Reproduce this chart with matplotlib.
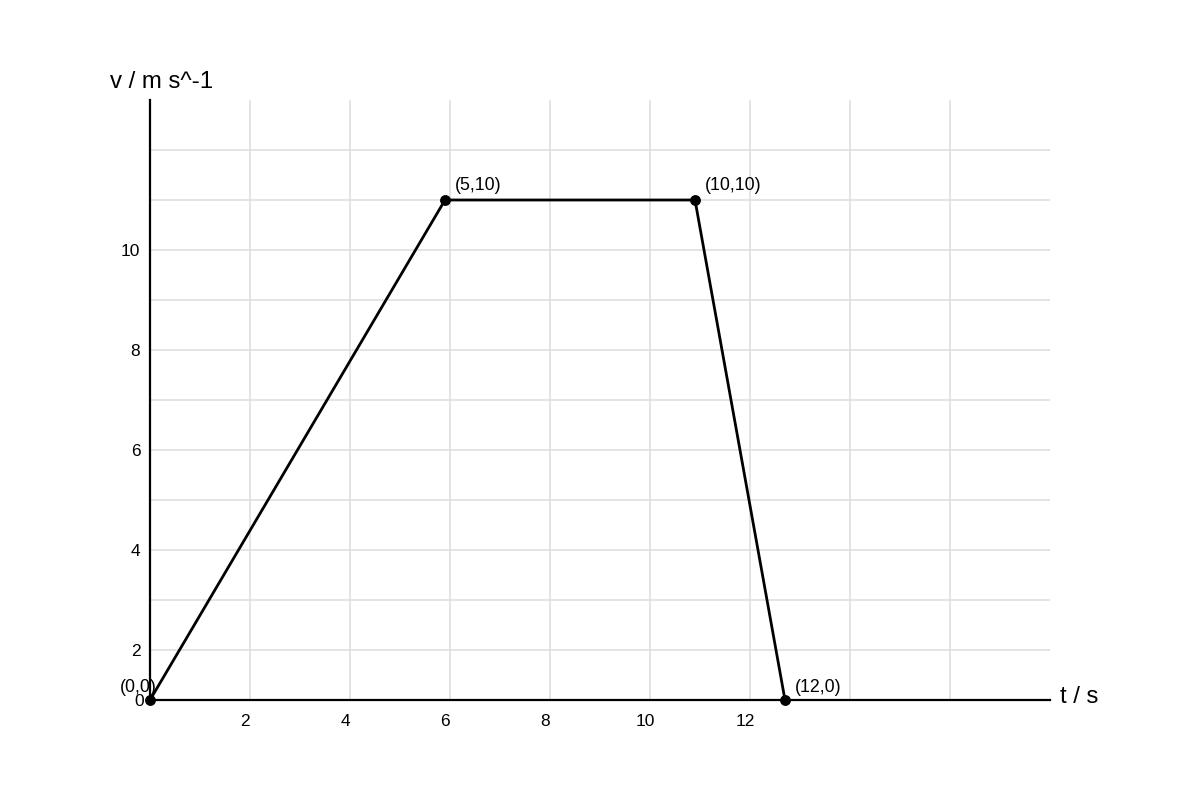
import matplotlib
matplotlib.use("Agg")
import matplotlib.pyplot as plt
from matplotlib.transforms import ScaledTranslation

plt.rcParams['font.family'] = ['Liberation Sans', 'DejaVu Sans']

# points as drawn, in grid units (1 grid step = 1 unit on y, 2 units per x gridline)
t_pts = [0, 5.9, 10.9, 12.7]
v_pts = [0, 10, 10, 0]
pt_labels = ["(0,0)", "(5,10)", "(10,10)", "(12,0)"]

x_ticks = [2, 4, 6, 8, 10, 12]
x_tick_labels = ["2", "4", "6", "8", "10", "12"]
y_ticks = [0, 1, 3, 5, 7, 9]
y_tick_labels = ["0", "2", "4", "6", "8", "10"]

x_grid = [2, 4, 6, 8, 10, 12, 14, 16]
y_grid = [1, 2, 3, 4, 5, 6, 7, 8, 9, 10, 11]

fig = plt.figure(figsize=(12, 8), dpi=100)
ax = fig.add_axes([0.125, 0.125, 0.75, 0.75])
ax.set_xlim(0, 18)
ax.set_ylim(0, 12)

for g in x_grid:
    ax.axvline(g, color='#dddddd', lw=1.1, zorder=0)
for g in y_grid:
    ax.axhline(g, color='#dddddd', lw=1.1, zorder=0)

ax.plot(t_pts, v_pts, color='black', lw=2.0, marker='o', ms=6.8,
        clip_on=False, zorder=3)

offsets = [(-12, 13), (10, 14), (10, 14), (10, 13)]
aligns = ['center', 'left', 'left', 'left']
for x, y, s, off, ha in zip(t_pts, v_pts, pt_labels, offsets, aligns):
    ax.annotate(s, (x, y), xytext=off, textcoords='offset pixels',
                ha=ha, va='center', fontsize=12.8)

for side in ['top', 'right']:
    ax.spines[side].set_visible(False)
for side in ['left', 'bottom']:
    ax.spines[side].set_linewidth(1.6)
    ax.spines[side].set_color('black')

ax.set_xticks(x_ticks)
ax.set_xticklabels(x_tick_labels)
ax.set_yticks(y_ticks)
ax.set_yticklabels(y_tick_labels)
ax.tick_params(axis='x', length=0, pad=10, labelsize=12.5)
ax.tick_params(axis='y', length=0, pad=7, labelsize=12.5)
shift = ScaledTranslation(-5 / 100, 0, fig.dpi_scale_trans)
for lab in ax.get_xticklabels():
    lab.set_transform(lab.get_transform() + shift)
zero_shift = ScaledTranslation(4 / 100, 0, fig.dpi_scale_trans)
y0 = ax.get_yticklabels()[0]
y0.set_transform(y0.get_transform() + zero_shift)

fig.text(110 / 1200, 1 - 82 / 800, "v / m s^-1", ha='left', va='center', fontsize=17.3)
fig.text(1060 / 1200, 1 - 697 / 800, "t / s", ha='left', va='center', fontsize=17.3)

fig.savefig("out.png", dpi=100)
